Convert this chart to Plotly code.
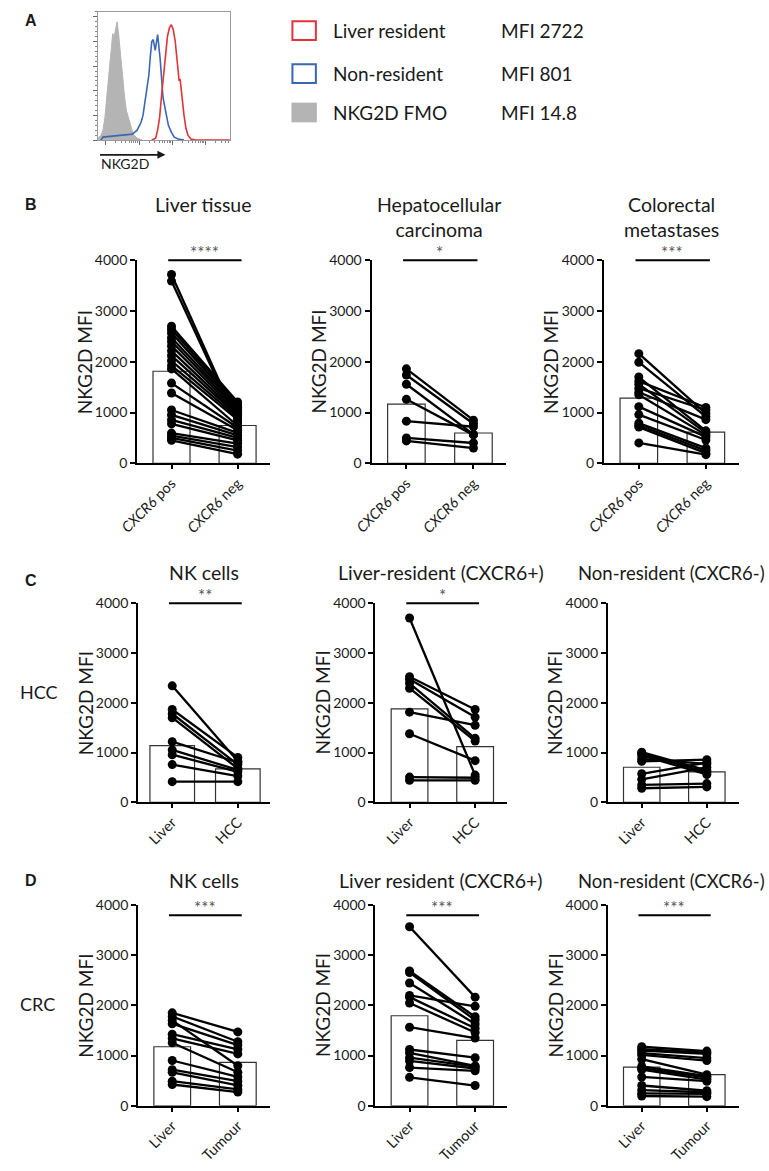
import math
import plotly.graph_objects as go

W, H = 769, 1171
FONT = "Lato"

# ---------------- data ----------------
# Panel A: histogram (channel, normalised count)
fmo_x = [0, 3, 5, 7, 9, 11, 13, 15, 16.5, 18, 19.5, 21, 23, 25, 27, 29, 31, 33, 36, 40, 45]
fmo_y = [2, 5, 10, 23, 45, 66, 90, 108, 105, 115, 120, 108, 85, 66, 45, 30, 23, 14, 6, 2, 0]
nonres_x = [3, 5, 15, 25, 35, 40, 44, 46, 48, 50, 52, 53.5, 55, 56.5, 58.5, 61, 63.5, 66.5, 69.5, 72, 75, 78, 82, 88]
nonres_y = [0, 3, 4, 5, 6, 10, 18, 25, 40, 55, 66, 85, 100, 102, 91, 107, 83, 43, 26, 15, 8, 3, 1, 0]
res_x = [55, 59, 61, 63, 65, 67, 69, 71, 73, 75, 77, 79, 81, 83, 84, 86, 88, 90, 92, 95, 100, 135]
res_y = [0, 2, 10, 23, 45, 66, 88, 105, 114, 117, 112, 100, 80, 60, 62, 40, 25, 12, 5, 1, 0, 0]
legend_names = ["Liver resident", "Non-resident", "NKG2D FMO"]
legend_mfi = ["MFI 2722", "MFI 801", "MFI 14.8"]

# categories
b_cats = ["<i>CXCR6</i> pos", "<i>CXCR6</i> neg"]
c_cats = ["Liver", "HCC"]
d_cats = ["Liver", "Tumour"]
y_ticks = [0, 1000, 2000, 3000, 4000]

# Panel B
b1_pos = [3720, 3590, 2700, 2640, 2570, 2475, 2400, 2313, 2216, 2120, 2020, 1925, 1860, 1580, 1385, 1050, 953, 855, 778, 596, 544, 499, 454]
b1_neg = [820, 780, 1210, 1170, 1130, 1100, 1060, 1020, 980, 940, 900, 860, 740, 700, 650, 600, 550, 500, 450, 390, 320, 250, 180]
b1_mean = [1814, 745]
b2_pos = [1862, 1740, 1558, 1260, 830, 500, 441]
b2_neg = [850, 780, 570, 560, 720, 400, 300]
b2_mean = [1168, 597]
b3_pos = [2161, 1992, 1700, 1620, 1560, 1480, 1400, 1350, 1116, 960, 792, 750, 714, 402]
b3_neg = [980, 920, 640, 1100, 600, 1050, 860, 560, 520, 460, 300, 250, 200, 170]
b3_mean = [1285, 616]

# Panel C (HCC)
c1_liver = [2340, 1865, 1780, 1700, 1219, 1054, 956, 758, 415]
c1_hcc = [824, 903, 758, 679, 800, 650, 613, 527, 415]
c1_mean = [1140, 672]
c2_liver = [3704, 2524, 2471, 2392, 2293, 1812, 1377, 507, 441]
c2_hcc = [547, 1865, 1713, 1285, 1232, 1549, 837, 494, 441]
c2_mean = [1878, 1120]
c3_liver = [1008, 980, 942, 870, 824, 573, 461, 349, 283]
c3_hcc = [640, 600, 560, 771, 857, 800, 700, 376, 310]
c3_mean = [705, 613]

# Panel D (CRC)
d1_liver = [1850, 1778, 1700, 1634, 1425, 1340, 1255, 902, 719, 667, 490, 425]
d1_tumour = [1471, 1275, 797, 1209, 1124, 1033, 667, 575, 490, 405, 327, 275]
d1_mean = [1176, 863]
d2_liver = [3564, 2684, 2652, 2443, 2196, 2163, 2046, 1564, 1121, 1055, 958, 893, 762, 567]
d2_tumour = [2163, 1772, 1707, 1629, 1981, 1544, 1459, 1349, 958, 795, 780, 743, 697, 404]
d2_mean = [1792, 1303]
d3_liver = [1176, 1130, 1098, 1050, 1013, 928, 784, 750, 719, 575, 405, 314, 248, 196]
d3_tumour = [1090, 1060, 1033, 950, 900, 620, 590, 560, 523, 490, 300, 270, 240, 183]
d3_mean = [771, 621]

# ---------------- helpers ----------------
def xp(px):
    return px / W

def yp(py):
    return 1 - py / H

XR = [-0.52, 1.49]
INK = "#1a1a1a"

panels = [
    dict(n=2, x0=122, x1=258, yt=255, yb=461, title="Liver tissue", cats=b_cats, a=b1_pos, b=b1_neg, m=b1_mean, stars="****", sig=4000, bw=0.56, right=False),
    dict(n=3, x0=362, x1=500, yt=255, yb=461, title="Hepatocellular<br>carcinoma", cats=b_cats, a=b2_pos, b=b2_neg, m=b2_mean, stars="*", sig=4000, bw=0.56, right=False),
    dict(n=4, x0=600, x1=738, yt=255, yb=461, title="Colorectal<br>metastases", cats=b_cats, a=b3_pos, b=b3_neg, m=b3_mean, stars="***", sig=4000, bw=0.56, right=False),
    dict(n=5, x0=123, x1=258, yt=603, yb=805, title="NK cells", cats=c_cats, a=c1_liver, b=c1_hcc, m=c1_mean, stars="**", sig=4000, bw=0.68, right=False),
    dict(n=6, x0=366, x1=501, yt=603, yb=805, title="Liver-resident (CXCR6+)", cats=c_cats, a=c2_liver, b=c2_hcc, m=c2_mean, stars="*", sig=4000, bw=0.56, right=False),
    dict(n=7, x0=604, x1=738, yt=603, yb=805, title="Non-resident (CXCR6-)", cats=c_cats, a=c3_liver, b=c3_hcc, m=c3_mean, stars="", sig=None, bw=0.56, right=True),
    dict(n=8, x0=123, x1=258, yt=909, yb=1113, title="NK cells", cats=d_cats, a=d1_liver, b=d1_tumour, m=d1_mean, stars="***", sig=3790, bw=0.56, right=False),
    dict(n=9, x0=366, x1=501, yt=909, yb=1113, title="Liver resident (CXCR6+)", cats=d_cats, a=d2_liver, b=d2_tumour, m=d2_mean, stars="***", sig=3790, bw=0.56, right=False),
    dict(n=10, x0=604, x1=738, yt=909, yb=1113, title="Non-resident (CXCR6-)", cats=d_cats, a=d3_liver, b=d3_tumour, m=d3_mean, stars="***", sig=3790, bw=0.56, right=True),
]
title_top = {255: 185, 603: 558, 909: 871}

fig = go.Figure()
layout = dict(width=W, height=H, margin=dict(l=0, r=0, t=0, b=0),
              paper_bgcolor="white", plot_bgcolor="white", showlegend=False,
              font=dict(family=FONT, color=INK))
annotations = []
shapes = []

# ---------------- Panel A ----------------
fig.add_trace(go.Scatter(x=fmo_x, y=fmo_y, mode="lines", fill="tozeroy",
                         line=dict(color="#b4b4b4", width=1), fillcolor="#b4b4b4",
                         xaxis="x", yaxis="y"))
fig.add_trace(go.Scatter(x=nonres_x, y=nonres_y, mode="lines",
                         line=dict(color="#3a67b1", width=1.6), xaxis="x", yaxis="y"))
fig.add_trace(go.Scatter(x=res_x, y=res_y, mode="lines",
                         line=dict(color="#e0343a", width=1.6), xaxis="x", yaxis="y"))

dec = [8, 42, 76, 110]
minor_x = [d + 34 * math.log10(k) for d in dec for k in range(2, 10) if d + 34 * math.log10(k) < 135]
layout["xaxis"] = dict(domain=[xp(82), xp(217)], range=[0, 135], showline=True, mirror=True,
                       linecolor="#9a9a9a", linewidth=1, ticks="outside", ticklen=4, tickcolor="#666",
                       tickvals=dec, showticklabels=False, showgrid=False, zeroline=False,
                       minor=dict(ticks="outside", ticklen=2, tickvals=minor_x, tickcolor="#888"),
                       anchor="y", fixedrange=True)
layout["yaxis"] = dict(domain=[yp(133), yp(3)], range=[0, 130], showline=True, mirror=True,
                       linecolor="#9a9a9a", linewidth=1, ticks="outside", ticklen=4, tickcolor="#666",
                       tickvals=[0, 25, 50, 75, 100, 125], showticklabels=False, showgrid=False,
                       zeroline=False, minor=dict(ticks="outside", ticklen=2, dtick=5, tickcolor="#888"),
                       anchor="x", fixedrange=True)

annotations.append(dict(x=xp(151), y=yp(148), xref="paper", yref="paper", text="", showarrow=True,
                        ax=-67, ay=0, arrowhead=2, arrowsize=1, arrowwidth=1.6, arrowcolor=INK))
annotations.append(dict(x=xp(83), y=yp(157), xref="paper", yref="paper", text="NKG2D", showarrow=False,
                        xanchor="left", yanchor="middle", font=dict(size=14, color=INK)))

leg_rows = [22, 65.5, 105]
leg_cols = ["#e0343a", "#3a67b1", "#b4b4b4"]
for i, (nm, mfi) in enumerate(zip(legend_names, legend_mfi)):
    cy = leg_rows[i]
    if i < 2:
        shapes.append(dict(type="rect", xref="paper", yref="paper", x0=xp(281), x1=xp(305),
                           y0=yp(cy - 9.5), y1=yp(cy + 9.5), line=dict(color=leg_cols[i], width=2),
                           fillcolor="white"))
    else:
        shapes.append(dict(type="rect", xref="paper", yref="paper", x0=xp(280), x1=xp(306),
                           y0=yp(cy - 10), y1=yp(cy + 10), line=dict(width=0),
                           fillcolor=leg_cols[i]))
    annotations.append(dict(x=xp(321), y=yp(cy), xref="paper", yref="paper", text=nm, showarrow=False,
                            xanchor="left", yanchor="middle", font=dict(size=19, color=INK)))
    annotations.append(dict(x=xp(493), y=yp(cy), xref="paper", yref="paper", text=mfi, showarrow=False,
                            xanchor="left", yanchor="middle", font=dict(size=19, color=INK)))

# ---------------- Panels B/C/D ----------------
for p in panels:
    n = p["n"]
    xa, ya = f"x{n}", f"y{n}"
    fig.add_trace(go.Bar(x=[0, 1], y=p["m"], width=p["bw"], marker=dict(color="white",
                         line=dict(color="#333", width=1.2)), xaxis=xa, yaxis=ya))
    xs, ys = [], []
    for a, b in zip(p["a"], p["b"]):
        xs += [0, 1, None]
        ys += [a, b, None]
    fig.add_trace(go.Scatter(x=xs, y=ys, mode="lines+markers", line=dict(color="black", width=2.3),
                             marker=dict(color="black", size=9), cliponaxis=False,
                             xaxis=xa, yaxis=ya))
    layout[f"xaxis{n}"] = dict(domain=[xp(p["x0"]), xp(p["x1"])], range=XR, tickvals=[0, 1],
                               ticktext=p["cats"], tickangle=-45, showline=True, linecolor="black",
                               linewidth=2, ticks="outside", ticklen=4, tickwidth=2, tickcolor="black",
                               showgrid=False, zeroline=False, anchor=ya,
                               tickfont=dict(size=14.5, color=INK), fixedrange=True)
    layout[f"yaxis{n}"] = dict(domain=[yp(p["yb"]), yp(p["yt"])], range=[0, 4000], tickvals=y_ticks,
                               showline=True, linecolor="black", linewidth=2, ticks="outside",
                               ticklen=5, tickwidth=2, tickcolor="black", showgrid=False,
                               zeroline=False, anchor=xa, tickfont=dict(size=14, color=INK),
                               fixedrange=True)
    if p["right"]:
        annotations.append(dict(x=xp(767), y=yp(title_top[p["yt"]] + 1), xref="paper",
                                yref="paper", text=p["title"], showarrow=False, xanchor="right",
                                yanchor="top", font=dict(size=18.5, color=INK)))
    else:
        annotations.append(dict(x=(xp(p["x0"]) + xp(p["x1"])) / 2, y=yp(title_top[p["yt"]]),
                                xref="paper", yref="paper", text=p["title"], showarrow=False,
                                xanchor="center", yanchor="top", font=dict(size=19.5, color=INK)))
    annotations.append(dict(x=xp(p["x0"] - 54), y=(yp(p["yt"]) + yp(p["yb"])) / 2, xref="paper",
                            yref="paper", text="NKG2D MFI", textangle=-90, showarrow=False,
                            xanchor="center", yanchor="middle", font=dict(size=19, color=INK)))
    if p["sig"] is not None:
        f0 = (-0.05 - XR[0]) / (XR[1] - XR[0])
        f1 = (1.06 - XR[0]) / (XR[1] - XR[0])
        fy = p["sig"] / 4000
        shapes.append(dict(type="line", xref=f"{xa} domain", yref=f"{ya} domain", x0=f0, x1=f1,
                           y0=fy, y1=fy, line=dict(color="black", width=2)))
        annotations.append(dict(x=0.5, y=p["sig"], xref=xa, yref=ya, text=p["stars"], showarrow=False,
                                xanchor="center", yanchor="bottom", yshift=-5,
                                font=dict(size=17, color="#555")))

for letter, py in [("A", 12), ("B", 198), ("C", 580), ("D", 884)]:
    annotations.append(dict(x=xp(5), y=yp(py), xref="paper", yref="paper", text=f"<b>{letter}</b>",
                            showarrow=False, xanchor="left", yanchor="middle",
                            font=dict(size=16, family="Liberation Sans", color=INK)))
for lab, py in [("HCC", 693), ("CRC", 1010)]:
    annotations.append(dict(x=xp(0), y=yp(py), xref="paper", yref="paper", text=lab, showarrow=False,
                            xanchor="left", yanchor="middle", font=dict(size=18, color=INK)))

layout["annotations"] = annotations
layout["shapes"] = shapes
fig.update_layout(**layout)
fig.write_html("out.html", config={"displayModeBar": False},
               post_script="document.body.style.margin='0';document.body.style.overflow='hidden';")
